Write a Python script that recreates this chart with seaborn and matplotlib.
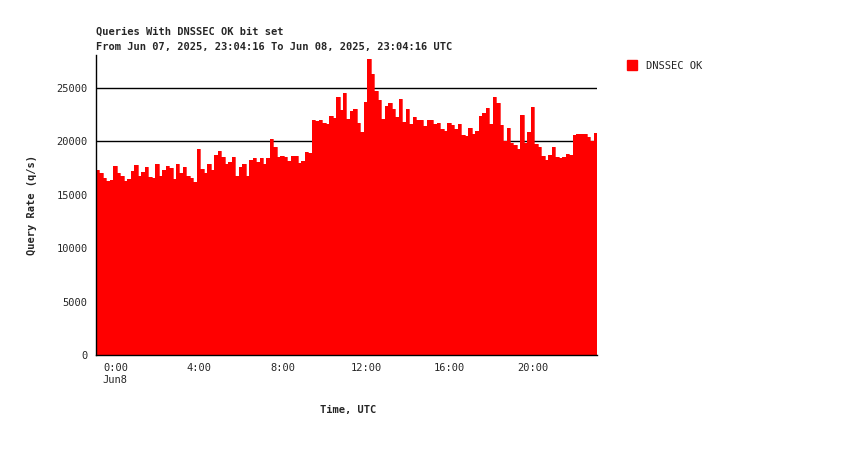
import numpy as np
import pandas as pd
import matplotlib
matplotlib.use("Agg")
import matplotlib.pyplot as plt
import seaborn as sns

# 10-minute bins starting Jun 07 23:04:16 UTC (hours relative to Jun 8 0:00)
start_h = -(55 + 44/60) / 60
bin_h = 1/6
values = [
    17300, 17000, 16600, 16300, 16400, 17700, 17000, 16800, 16300, 16500,
    17200, 17800, 16800, 17100, 17600, 16700, 16600, 17900, 16800, 17300,
    17700, 17500, 16500, 17900, 17000, 17600, 16800, 16600, 16200, 19300,
    17400, 17000, 17900, 17300, 18700, 19100, 18500,
    17900, 18100, 18500, 16800, 17600, 17900, 16800, 18300, 18400, 18100,
    18400, 17900, 18400, 20200, 19500, 18500, 18600, 18500, 18200, 18600,
    18600, 18000, 18200, 19000, 18900, 22000, 21900, 22000, 21700, 21600,
    22400, 22200, 24200, 22900, 24500, 22100,
    22800, 23000, 21750, 20900, 23700, 27700, 26300, 24750, 23900, 22100,
    23300, 23600, 23000, 22300, 24000, 21800, 23000, 21600, 22300, 22000,
    22000, 21400, 22000, 22000, 21600, 21700, 21200, 21000, 21700, 21500,
    21200, 21600, 20600, 20500, 21300, 20700,
    21000, 22400, 22650, 23100, 21600, 24200, 23600, 21500, 20000, 21250,
    19850, 19650, 19300, 22450, 19850, 20900, 23200, 19750, 19500, 18600,
    18250, 18700, 19450, 18550, 18450, 18550, 18800, 18700, 20600, 20700,
    20700, 20700, 20400, 20000, 20800,
]
series = "DNSSEC OK"
title_lines = ["Queries With DNSSEC OK bit set",
               "From Jun 07, 2025, 23:04:16 To Jun 08, 2025, 23:04:16 UTC"]
xticks = [0, 4, 8, 12, 16, 20]
xticklabels = ["0:00\nJun8", "4:00", "8:00", "12:00", "16:00", "20:00"]
yticks = [0, 5000, 10000, 15000, 20000, 25000]

n = len(values)
edges = start_h + bin_h * np.arange(n + 1)
vals_ext = list(values) + [values[-1]]
df = pd.DataFrame({"t": edges, "v": vals_ext})

sns.set_style("white")
plt.rcParams["font.family"] = ["DejaVu Sans Mono"]
fig = plt.figure(figsize=(8.5, 4.5), dpi=100)
ax = fig.add_axes([96/850, 1-355/450, 501/850, 300/450])

for y in yticks[1:]:
    ax.axhline(y, color="black", lw=1, zorder=0)
sns.lineplot(data=df, x="t", y="v", drawstyle="steps-post", color="#ff0000",
             lw=0.5, ax=ax, zorder=2)
ax.fill_between(df["t"], 0, df["v"], step="post", color="#ff0000",
                linewidth=0, zorder=2)
ax.set_xlim(edges[0], edges[-1])
ax.set_ylim(0, 28090)
ax.set_xticks(xticks)
ax.set_xticklabels(xticklabels, fontsize=7.5, ha="center")
for lab in ax.get_xticklabels():
    lab.set_multialignment("left")
ax.set_yticks(yticks)
ax.set_yticklabels([str(v) for v in yticks], fontsize=7.5)
ax.tick_params(direction="out", length=3, width=1, color="black", pad=3)
for s in ["top", "right"]:
    ax.spines[s].set_visible(False)
for s in ["left", "bottom"]:
    ax.spines[s].set_color("black")
    ax.spines[s].set_linewidth(1)
ax.set_xlabel("")
ax.set_ylabel("")
fig.text(348/850, 1-410/450, "Time, UTC", ha="center", va="center",
         fontsize=7.5, fontweight="bold")
fig.text(32/850, 1-205/450, "Query Rate (q/s)", ha="center", va="center",
         rotation=90, fontsize=7.5, fontweight="bold")
fig.text(96/850, 1-32/450, title_lines[0], ha="left", va="center",
         fontsize=7.5, fontweight="bold")
fig.text(96/850, 1-47/450, title_lines[1], ha="left", va="center",
         fontsize=7.5, fontweight="bold")
fig.patches.append(plt.Rectangle((627/850, 1-70/450), 10/850, 10/450,
                                 transform=fig.transFigure, color="#ff0000"))
fig.text(646/850, 1-66/450, series, ha="left", va="center", fontsize=7.5)
fig.savefig("out.png", dpi=100, facecolor="white")
